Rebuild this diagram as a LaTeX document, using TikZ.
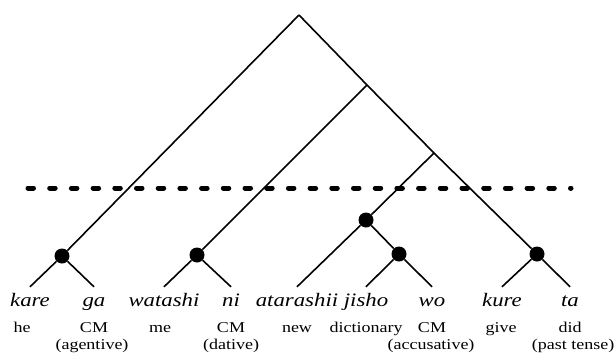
\documentclass[tikz,border=0pt]{standalone}
\usepackage{fontspec}
\setmainfont{Liberation Serif}[FakeStretch=1.2]
\begin{document}
\begin{tikzpicture}[x=1pt,y=-1pt,
  branch/.style={line width=1.6pt},
  junction/.style={circle,fill=black,inner sep=0pt,minimum size=15pt},
  word/.style={font=\fontsize{19}{19}\selectfont\itshape,anchor=base,inner sep=0pt,text height=19pt,text depth=5pt},
  gloss/.style={font=\fontsize{15}{15}\selectfont,anchor=base,inner sep=0pt},
  cutline/.style={line width=5pt,line cap=round,dash pattern=on 5.5pt off 16.2pt}]
\useasboundingbox (0,0) rectangle (614,354);
% junctions
\coordinate (root) at (299,15);
\coordinate (A) at (367,85);
\coordinate (B) at (434,153);
\node[junction] (c) at (366,220) {};
\node[junction] (d1) at (62,256) {};
\node[junction] (d2) at (197,255) {};
\node[junction] (d3) at (399,254) {};
\node[junction] (d4) at (537,254) {};
% words
\node[word] (kare) at (30,306) {kare};
\node[word] (ga) at (94,306) {ga};
\node[word] (watashi) at (164,306) {watashi};
\node[word] (ni) at (231,306) {ni};
\node[word] (atarashii) at (297,306) {atarashii};
\node[word] (jisho) at (366,306) {jisho};
\node[word] (wo) at (432,306) {wo};
\node[word] (kure) at (502,306) {kure};
\node[word] (ta) at (570,306) {ta};
% glosses
\node[gloss] (g1) at (22,332) {he};
\node[gloss] (g2) at (94,332) {CM};
\node[gloss] (g2b) at (92,349) {(agentive)};
\node[gloss] (g3) at (160,332) {me};
\node[gloss] (g4) at (231,332) {CM};
\node[gloss] (g4b) at (231,349) {(dative)};
\node[gloss] (g5) at (297,332) {new};
\node[gloss] (g6) at (366,332) {dictionary};
\node[gloss] (g7) at (432,332) {CM};
\node[gloss] (g7b) at (431,349) {(accusative)};
\node[gloss] (g8) at (501,332) {give};
\node[gloss] (g9) at (570,332) {did};
\node[gloss] (g9b) at (573,349) {(past tense)};
% tree
\draw[branch] (root) -- (d1);
\draw[branch] (root) -- (A) -- (B) -- (d4);
\draw[branch] (A) -- (d2);
\draw[branch] (B) -- (c);
\draw[branch] (c) -- (atarashii.north);
\draw[branch] (c) -- (d3);
\draw[branch] (d1) -- (kare.north);
\draw[branch] (d1) -- (ga.north);
\draw[branch] (d2) -- (watashi.north);
\draw[branch] (d2) -- (ni.north);
\draw[branch] (d3) -- (jisho.north);
\draw[branch] (d3) -- (wo.north);
\draw[branch] (d4) -- (kure.north);
\draw[branch] (d4) -- (ta.north);
% cut
\coordinate (cl) at (28,188);
\coordinate (cr) at (571,188);
\draw[cutline] (cl) -- (cr);
\end{tikzpicture}
\end{document}
